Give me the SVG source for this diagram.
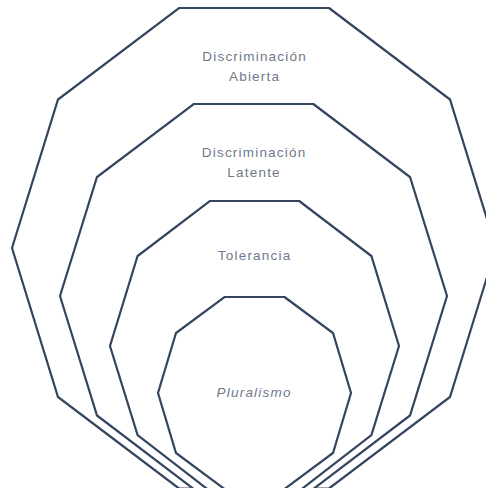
<svg xmlns="http://www.w3.org/2000/svg" width="486" height="488" viewBox="0 0 486 488">
  <style>
    .ring { fill: #ffffff; stroke: #34465e; stroke-width: 2.2; stroke-linejoin: miter; }
    .lbl { font-family: "Liberation Sans", Arial, sans-serif; font-size: 13.5px; fill: #6d798b; text-anchor: middle; letter-spacing: 1.2px; }
    .it { font-style: italic; }
  </style>
  <rect width="486" height="488" fill="#ffffff"/>
  <g id="node-abierta">
    <polygon class="ring" points="329,8 450,99.5 496,248 450,397 329,488.5 179,488.5 58,397 12,248 58,99.5 179,8"/>
    <text class="lbl" x="254.6" y="61">Discriminación</text>
    <text class="lbl" x="254.6" y="81">Abierta</text>
  </g>
  <g id="node-latente">
    <polygon class="ring" points="313.3,104 410,177 447,296 410,415.5 313.3,489 193.7,489 97,415.5 60,296 97,177 193.7,104"/>
    <text class="lbl" x="254.1" y="157">Discriminación</text>
    <text class="lbl" x="254.1" y="177">Latente</text>
  </g>
  <g id="node-tolerancia">
    <polygon class="ring" points="299.2,201 371.4,256 399,346 371.4,435 299.2,491 209.8,491 137.6,435 110,346 137.6,256 209.8,201"/>
    <text class="lbl" x="254.6" y="260">Tolerancia</text>
  </g>
  <g id="node-pluralismo">
    <polygon class="ring" points="284.5,297 333,333 351,393 333,453 284.5,489 224.5,489 176,453 158,393 176,333 224.5,297"/>
    <text class="lbl it" x="254.1" y="397">Pluralismo</text>
  </g>
  <g id="connectors"></g>
</svg>
